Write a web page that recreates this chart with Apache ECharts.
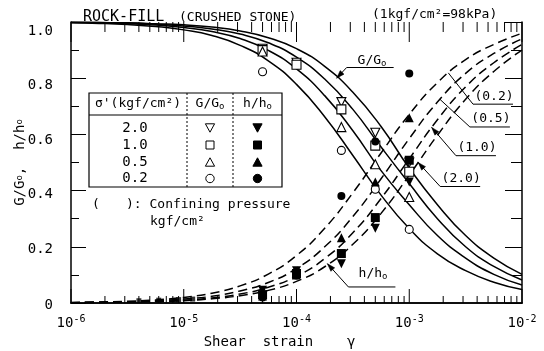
<!DOCTYPE html>
<html>
<head>
<meta charset="utf-8">
<script src="https://cdn.jsdelivr.net/npm/echarts@6/dist/echarts.min.js"></script>
<style>
  html, body { margin: 0; padding: 0; background: #fff; }
  #chart { width: 544px; height: 351px; }
</style>
</head>
<body>
<div id="chart"></div>
<script>
// ---- axis ticks ----
const xTickValues = [1e-6, 1e-5, 1e-4, 1e-3, 1e-2];
const xTickExp = ['-6', '-5', '-4', '-3', '-2'];
const xMinorTicks = [
  2e-6, 3e-6, 4e-6, 5e-6, 6e-6, 7e-6, 8e-6, 9e-6,
  2e-5, 3e-5, 4e-5, 5e-5, 6e-5, 7e-5, 8e-5, 9e-5,
  2e-4, 3e-4, 4e-4, 5e-4, 6e-4, 7e-4, 8e-4, 9e-4,
  2e-3, 3e-3, 4e-3, 5e-3, 6e-3, 7e-3, 8e-3, 9e-3
];
const yTickLabels = ['0', '0.2', '0.4', '0.6', '0.8', '1.0'];

// ---- fitted curves, quarter-decade steps (strain, ratio) ----
const curveStrain = [1e-6, 1.778e-6, 3.162e-6, 5.623e-6, 1e-5, 1.778e-5, 3.162e-5, 5.623e-5,
                     1e-4, 1.778e-4, 3.162e-4, 5.623e-4, 1e-3, 1.778e-3, 3.162e-3, 5.623e-3, 1e-2];
const gCurve02 = [0.997, 0.995, 0.991, 0.984, 0.972, 0.952, 0.917, 0.862, 0.778, 0.663, 0.525, 0.384, 0.265, 0.175, 0.115, 0.074, 0.048];
const gCurve05 = [0.998, 0.997, 0.994, 0.989, 0.980, 0.966, 0.941, 0.899, 0.833, 0.738, 0.613, 0.471, 0.350, 0.240, 0.160, 0.102, 0.064];
const gCurve10 = [0.999, 0.998, 0.996, 0.992, 0.986, 0.975, 0.957, 0.926, 0.875, 0.797, 0.689, 0.555, 0.425, 0.300, 0.200, 0.130, 0.082];
const gCurve20 = [0.999, 0.998, 0.997, 0.994, 0.990, 0.982, 0.968, 0.944, 0.905, 0.842, 0.750, 0.628, 0.480, 0.350, 0.240, 0.160, 0.102];
const hCurve02 = [0.002, 0.004, 0.006, 0.011, 0.020, 0.035, 0.061, 0.103, 0.169, 0.266, 0.392, 0.534, 0.671, 0.784, 0.866, 0.920, 0.960];
const hCurve05 = [0.001, 0.003, 0.004, 0.008, 0.014, 0.024, 0.043, 0.073, 0.123, 0.200, 0.308, 0.442, 0.585, 0.715, 0.817, 0.888, 0.940];
const hCurve10 = [0.001, 0.002, 0.003, 0.006, 0.010, 0.018, 0.032, 0.056, 0.095, 0.158, 0.250, 0.372, 0.513, 0.652, 0.769, 0.855, 0.920];
const hCurve20 = [0.001, 0.002, 0.003, 0.005, 0.008, 0.015, 0.026, 0.045, 0.077, 0.129, 0.209, 0.319, 0.455, 0.597, 0.725, 0.824, 0.900];

// ---- test results ----
const testStrain = [5e-5, 1e-4, 2.5e-4, 5e-4, 1e-3];
const gTest20 = [0.905, 0.855, 0.715, 0.606, 0.500];
const gTest10 = [0.900, 0.848, 0.689, 0.560, 0.467];
const gTest05 = [0.895, null, 0.626, 0.494, 0.377];
const gTest02 = [0.823, null, 0.543, 0.405, 0.262];
const hTest20 = [0.045, 0.115, 0.140, 0.266, 0.431];
const hTest10 = [0.030, 0.105, 0.176, 0.304, 0.508];
const hTest05 = [0.025, 0.100, 0.232, 0.431, 0.659];
const hTest02 = [0.020, 0.098, 0.381, 0.575, 0.817];
const lowStrain = [4e-6, 6e-6, 9e-6, 1.2e-5];
const lowH = [0.008, 0.010, 0.012, 0.014];

// ---- legend table rows ----
const pressures = ['2.0', '1.0', '0.5', '0.2'];
const curveLabels = ['(0.2)', '(0.5)', '(1.0)', '(2.0)'];

const MONO = '"DejaVu Sans Mono", monospace';
const pair = (xs, ys) => xs.map((x, i) => [x, ys[i]]).filter(p => p[1] != null);

const chart = echarts.init(document.getElementById('chart'), null, { renderer: 'canvas' });

const blackLine = { color: '#000', width: 1.5 };
const tickStyle = { color: '#000', width: 1 };

const xMain = {
  type: 'log', logBase: 10, min: 1e-6, max: 1e-2, position: 'bottom',
  axisLine: { show: true, lineStyle: blackLine },
  axisTick: { show: false },
  axisLabel: {
    margin: 11,
    formatter: v => {
      const i = xTickValues.findIndex(t => Math.abs(Math.log10(t) - Math.log10(v)) < 1e-6);
      return '{b|10}{s|' + (i >= 0 ? xTickExp[i] : '') + '}';
    },
    rich: {
      b: { fontFamily: MONO, fontSize: 14, color: '#000' },
      s: { fontFamily: MONO, fontSize: 10, color: '#000', padding: [0, 0, 9, 0] }
    }
  },
  splitLine: { show: false },
  name: 'Shear  strain    γ', nameLocation: 'middle', nameGap: 32,
  nameTextStyle: { fontFamily: MONO, fontSize: 14, color: '#000', padding: [0, 34, 0, 0] }
};
const xTop = {
  type: 'log', logBase: 10, min: 1e-6, max: 1e-2, position: 'top',
  axisLine: { show: true, lineStyle: blackLine }, axisTick: { show: false }, axisLabel: { show: false }, splitLine: { show: false }
};

function valueAxis(position, showLabels, len, minorLen) {
  return {
    type: 'value', min: 0, max: 1, interval: 0.2, position,
    axisLine: { show: true, lineStyle: blackLine },
    axisTick: { show: true, inside: true, length: len, lineStyle: tickStyle },
    minorTick: { show: true, splitNumber: 2, length: minorLen, lineStyle: tickStyle },
    splitLine: { show: false },
    axisLabel: showLabels ? {
      margin: 18,
      formatter: v => { const i = Math.round(v / 0.2); return '{l' + i + '|' + yTickLabels[i] + '}'; },
      rich: {
        l0: { fontFamily: MONO, fontSize: 14, color: '#000', padding: [4, 0, 0, 0] },
        l1: { fontFamily: MONO, fontSize: 14, color: '#000', padding: [5, 0, 0, 0] },
        l2: { fontFamily: MONO, fontSize: 14, color: '#000', padding: [7, 0, 0, 0] },
        l3: { fontFamily: MONO, fontSize: 14, color: '#000', padding: [11, 0, 0, 0] },
        l4: { fontFamily: MONO, fontSize: 14, color: '#000', padding: [14, 0, 0, 0] },
        l5: { fontFamily: MONO, fontSize: 14, color: '#000', padding: [19, 0, 0, 0] }
      }
    } : { show: false }
  };
}

const yMain = valueAxis('left', true, 15, 8);
yMain.name = '{t|G/G}{o|o}{t|,  h/h}{o|o}';
yMain.nameLocation = 'middle';
yMain.nameRotate = 90;
yMain.nameGap = 44;
yMain.nameMoveOverlap = false;
yMain.nameTextStyle = {
  rich: {
    t: { fontFamily: MONO, fontSize: 14, color: '#000' },
    o: { fontFamily: MONO, fontSize: 9, color: '#000' }
  }
};

function gLine(vals) {
  return { type: 'line', data: pair(curveStrain, vals), smooth: 0.5, showSymbol: false,
           lineStyle: { color: '#000', width: 1.5 }, z: 2, silent: true };
}
function hLine(vals) {
  return { type: 'line', data: pair(curveStrain, vals), smooth: 0.5, showSymbol: false,
           lineStyle: { color: '#000', width: 1.5, type: [9, 5] }, z: 2, silent: true };
}
function pts(vals, symbol, filled, rotate, xs) {
  return { type: 'scatter', data: pair(xs || testStrain, vals), symbol, symbolSize: symbol === 'circle' ? 8 : 9,
           symbolRotate: rotate || 0,
           itemStyle: { color: filled ? '#000' : '#fff', borderColor: '#000', borderWidth: filled ? 0 : 1.1, opacity: 1 },
           z: filled ? 4 : 3, silent: true };
}

// log-axis ticks (decades long, 2..9 short) on bottom and top edges
const tickSeries = {
  type: 'custom', xAxisIndex: 0, yAxisIndex: 0, clip: false, silent: true, z: 5,
  data: xTickValues.map(v => [v, 1]).concat(xMinorTicks.map(v => [v, 0])),
  renderItem: (params, api) => {
    const v = api.value(0), major = api.value(1) === 1;
    const pb = api.coord([v, 0]), pt = api.coord([v, 1]);
    const lb = major ? 14 : 7, lt = major ? 20 : 10;
    return { type: 'group', children: [
      { type: 'line', shape: { x1: pb[0], y1: pb[1], x2: pb[0], y2: pb[1] - lb }, style: { stroke: '#000', lineWidth: 1 } },
      { type: 'line', shape: { x1: pt[0], y1: pt[1], x2: pt[0], y2: pt[1] + lt }, style: { stroke: '#000', lineWidth: 1 } }
    ] };
  }
};

chart.setOption({
  animation: false,
  backgroundColor: '#fff',
  grid: { left: 71, right: 22, top: 22, bottom: 48, containLabel: false, outerBoundsMode: 'none' },
  xAxis: [xMain, xTop],
  yAxis: [yMain, valueAxis('right', false, 17, 11)],
  series: [
    tickSeries,
    gLine(gCurve02), gLine(gCurve05), gLine(gCurve10), gLine(gCurve20),
    hLine(hCurve02), hLine(hCurve05), hLine(hCurve10), hLine(hCurve20),
    pts(gTest20, 'triangle', false, 180), pts(gTest10, 'rect', false), pts(gTest05, 'triangle', false), pts(gTest02, 'circle', false),
    pts(hTest20, 'triangle', true, 180), pts(hTest10, 'rect', true), pts(hTest05, 'triangle', true), pts(hTest02, 'circle', true),
    { type: 'scatter', data: pair(lowStrain, lowH), symbol: 'rect', symbolSize: 5, itemStyle: { color: '#000' }, z: 4, silent: true }
  ]
});

// ---- annotations ----
const g = [];
const txt = (x, y, text, size, align, extra) => g.push(Object.assign({
  type: 'text', x, y, z: 20,
  style: Object.assign({ text, font: size + 'px ' + MONO, fill: '#000', align: align || 'center', verticalAlign: 'middle' }, extra || {})
}));
const toPx = d => chart.convertToPixel({ xAxisIndex: 0, yAxisIndex: 0 }, d);

function leader(tip, d, len, arrow) {
  const p = toPx(tip);
  const e = [p[0] + d[0], p[1] + d[1]];
  const f = [e[0] + len, e[1]];
  g.push({ type: 'polyline', z: 15, shape: { points: [p, e, f] }, style: { stroke: '#000', lineWidth: 1, fill: null } });
  if (arrow) {
    const dx = e[0] - p[0], dy = e[1] - p[1], L = Math.hypot(dx, dy);
    const ux = dx / L, uy = dy / L, al = 8, aw = 2.6;
    const b = [p[0] + ux * al, p[1] + uy * al];
    g.push({ type: 'polygon', z: 15, shape: { points: [p, [b[0] - uy * aw, b[1] + ux * aw], [b[0] + uy * aw, b[1] - ux * aw]] },
             style: { fill: '#000', stroke: '#000', lineWidth: 0.5 } });
  }
  return e;
}

// titles
txt(83, 17, 'ROCK-FILL', 15, 'left');
txt(179, 18, '(CRUSHED STONE)', 13, 'left');
txt(372, 15, '(1kgf/cm²=98kPa)', 13, 'left');

// curve labels
const subRich = { a: { font: '13px ' + MONO, fill: '#000' }, o: { font: '9px ' + MONO, fill: '#000', padding: [6, 0, 0, 0] } };
leader([2.27e-4, 0.800], [10, -10.7], 47, true);
txt(372, 61, '{a|G/G}{o|o}', 13, 'center', { rich: subRich });
leader([1.88e-4, 0.140], [21, 23.3], 47, true);
txt(373, 274, '{a|h/h}{o|o}', 13, 'center', { rich: subRich });

const lblTips = [[2.22e-3, 0.819], [1.87e-3, 0.725], [1.58e-3, 0.625], [1.2e-3, 0.50]];
const lblOff = [[24.7, 31.3], [30, 27.7], [24.3, 28.3], [22, 24]];
const lblArrow = [false, false, true, true];
lblTips.forEach((t, i) => {
  const e = leader(t, lblOff[i], 40, lblArrow[i]);
  txt(e[0] + 21, e[1] - 8, curveLabels[i], 13, 'center');
});

// legend table
const T = { x0: 89, x1: 187, x2: 233, x3: 282, y0: 93, yh: 115, y1: 187 };
g.push({ type: 'rect', z: 12, shape: { x: T.x0, y: T.y0, width: T.x3 - T.x0, height: T.y1 - T.y0 },
         style: { fill: '#fff', stroke: '#000', lineWidth: 1.2 } });
g.push({ type: 'line', z: 13, shape: { x1: T.x0, y1: T.yh, x2: T.x3, y2: T.yh }, style: { stroke: '#000', lineWidth: 1.2 } });
[T.x1, T.x2].forEach(x => g.push({ type: 'line', z: 13, shape: { x1: x, y1: T.y0, x2: x, y2: T.y1 },
  style: { stroke: '#000', lineWidth: 1, lineDash: [2, 2] } }));
txt((T.x0 + T.x1) / 2, 104, "σ'(kgf/cm²)", 13);
txt((T.x1 + T.x2) / 2, 104, '{a|G/G}{o|o}', 13, 'center', { rich: subRich });
txt((T.x2 + T.x3) / 2, 104, '{a|h/h}{o|o}', 13, 'center', { rich: subRich });

const rowY = [128, 145, 162, 178.5];
function tri(cx, cy, down, filled) {
  const s = 4.6, h = 4.2;
  const p = down ? [[cx - s, cy - h], [cx + s, cy - h], [cx, cy + h]] : [[cx - s, cy + h], [cx + s, cy + h], [cx, cy - h]];
  g.push({ type: 'polygon', z: 14, shape: { points: p }, style: { fill: filled ? '#000' : '#fff', stroke: '#000', lineWidth: 1 } });
}
function sq(cx, cy, filled) {
  g.push({ type: 'rect', z: 14, shape: { x: cx - 4, y: cy - 4, width: 8, height: 8 }, style: { fill: filled ? '#000' : '#fff', stroke: '#000', lineWidth: 1 } });
}
function circ(cx, cy, filled) {
  g.push({ type: 'circle', z: 14, shape: { cx, cy, r: 4.2 }, style: { fill: filled ? '#000' : '#fff', stroke: '#000', lineWidth: 1 } });
}
pressures.forEach((p, i) => {
  const y = rowY[i];
  txt(135, y, p, 14);
  const cg = (T.x1 + T.x2) / 2, ch = (T.x2 + T.x3) / 2;
  if (i === 0) { tri(cg, y, true, false); tri(ch, y, true, true); }
  if (i === 1) { sq(cg, y, false); sq(ch, y, true); }
  if (i === 2) { tri(cg, y, false, false); tri(ch, y, false, true); }
  if (i === 3) { circ(cg, y, false); circ(ch, y, true); }
});

// note on pressure labels
txt(92, 205, '(', 13, 'left');
txt(126, 205, '): Confining pressure', 13, 'left');
txt(150, 222, 'kgf/cm²', 13, 'left');

chart.setOption({ graphic: g });
</script>
</body>
</html>
